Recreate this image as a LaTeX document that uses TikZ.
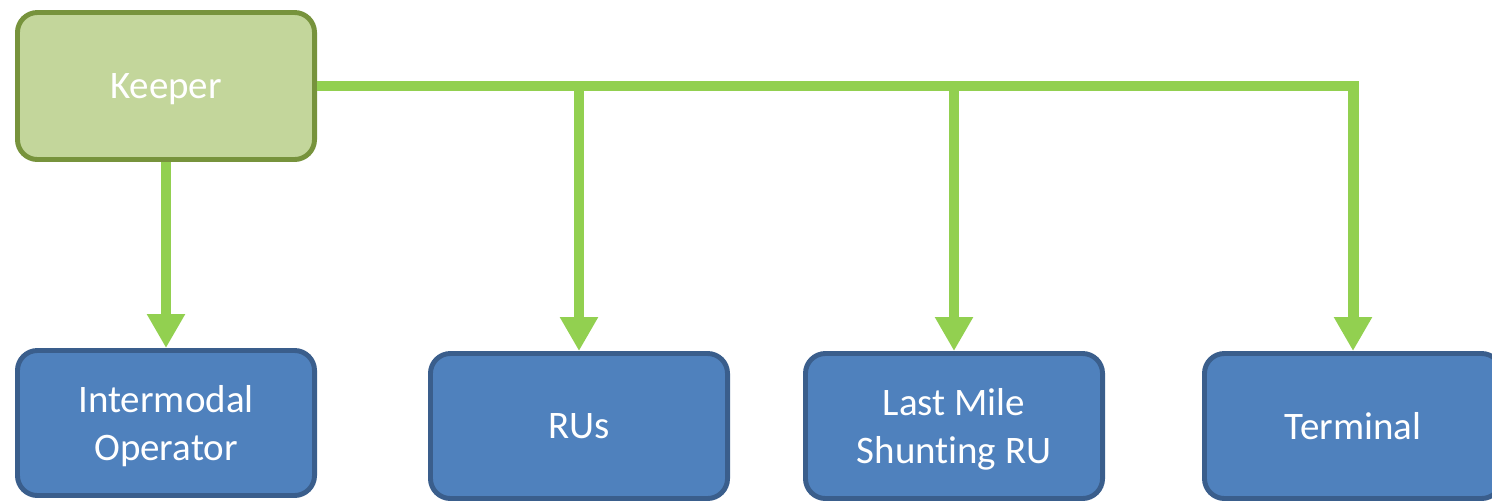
\documentclass[tikz,border=0pt]{standalone}
\usepackage{fontspec}
\setmainfont{Carlito}[Ligatures=NoCommon]
\usepackage{xcolor}
\usepackage{tikz}
\usetikzlibrary{arrows.meta,positioning}
\definecolor{keeperfill}{HTML}{C3D69B}
\definecolor{keeperline}{HTML}{77933C}
\definecolor{actorfill}{HTML}{4F81BD}
\definecolor{actorline}{HTML}{3A5E8C}
\definecolor{linkgreen}{HTML}{92D050}

\begin{document}
\begin{tikzpicture}[x=0.025cm,y=-0.025cm,
 keeperbox/.style={draw=keeperline,fill=keeperfill,line width=3.5pt,rounded corners=0.5cm,
  minimum width=7.425cm,minimum height=3.675cm,text=white,text depth=0pt,font=\fontsize{27.7}{34}\selectfont},
 actorbox/.style={draw=actorline,fill=actorfill,line width=3.5pt,rounded corners=0.5cm,
  minimum width=7.425cm,minimum height=3.625cm,text=white,text depth=0pt,align=center,font=\fontsize{27.7}{34}\selectfont},
 link/.style={draw=linkgreen,line width=7.8pt},
 linkarrow/.style={link,-{Triangle[width=0.9cm,length=0.85cm]}}]
\useasboundingbox (0,0) rectangle (1492,502);
\node[keeperbox](keeper) at (166,86){Keeper};
\node[actorbox](intermodal) at (166,423){Intermodal\\Operator};
\node[actorbox](rus) at (579,426){RUs};
\node[actorbox](lastmile) at (954,426){Last Mile\\Shunting RU};
\node[actorbox](terminal) at (1353,426){Terminal};
\draw[linkarrow](keeper.south)--(intermodal.north);
\draw[linkarrow](keeper.east)-|(terminal.north);
\draw[linkarrow](keeper.east)-|(rus.north);
\draw[linkarrow](keeper.east)-|(lastmile.north);
\end{tikzpicture}
\end{document}
